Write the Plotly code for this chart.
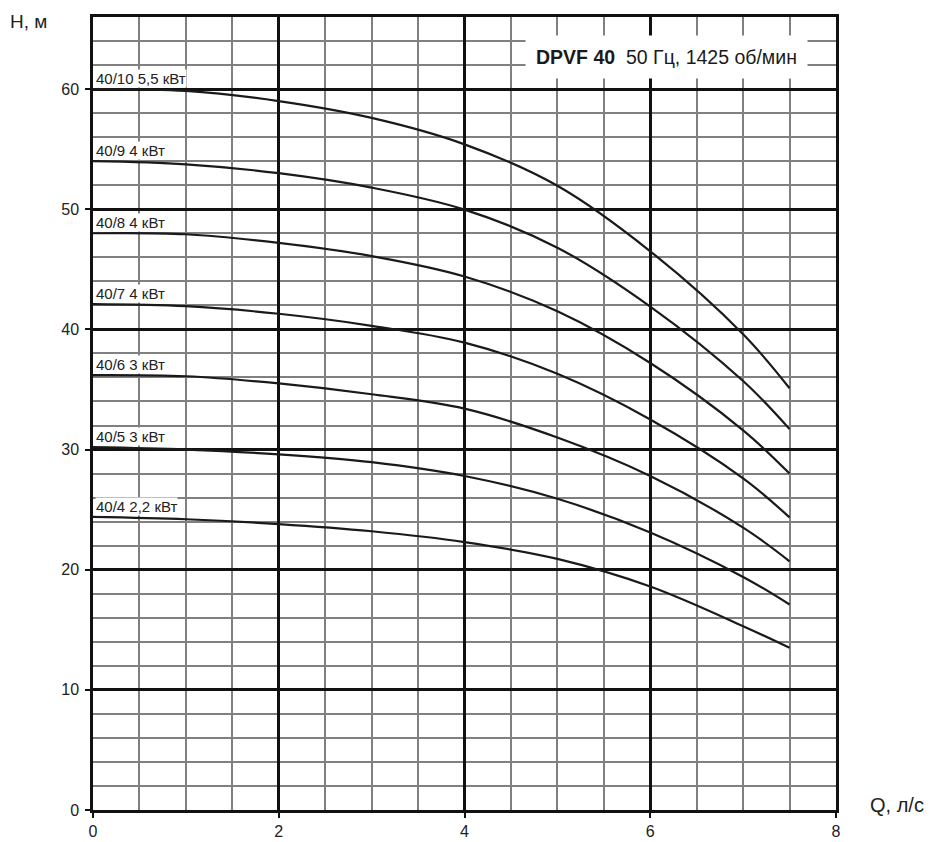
import plotly.graph_objects as go

Q = [0, 1, 2, 3, 4, 5, 6, 7, 7.5]
labels = ["40/10 5,5 кВт", "40/9 4 кВт", "40/8 4 кВт", "40/7 4 кВт",
          "40/6 3 кВт", "40/5 3 кВт", "40/4 2,2 кВт"]
H_40_10 = [60.0, 59.85, 59.0, 57.6, 55.4, 51.95, 46.5, 39.6, 35.1]
H_40_9 = [54.0, 53.74, 53.0, 51.8, 49.97, 46.8, 41.9, 35.7, 31.7]
H_40_8 = [48.0, 47.92, 47.2, 46.1, 44.4, 41.5, 37.2, 31.6, 28.0]
H_40_7 = [42.1, 41.93, 41.3, 40.3, 38.9, 36.3, 32.5, 27.6, 24.35]
H_40_6 = [36.2, 36.1, 35.5, 34.6, 33.4, 31.0, 27.8, 23.5, 20.7]
H_40_5 = [30.2, 30.0, 29.6, 28.95, 27.8, 25.9, 23.1, 19.4, 17.1]
H_40_4 = [24.4, 24.2, 23.8, 23.2, 22.3, 20.9, 18.6, 15.3, 13.5]
series = [H_40_10, H_40_9, H_40_8, H_40_7, H_40_6, H_40_5, H_40_4]

FONT = "Liberation Sans, Arial, sans-serif"

fig = go.Figure()
for name, H in zip(labels, series):
    fig.add_trace(go.Scatter(x=Q, y=H, mode="lines", name=name,
                             line=dict(color="#1a1a1a", width=2.2, shape="spline", smoothing=1.0),
                             showlegend=False, hoverinfo="x+y+name"))

# margins chosen so that the plot area lands where it is in the reference
# (the page body adds an 8 px offset)
L, R, T, B = 85, 108, 9, 40
W, HH = 936, 842
PW, PH = W - L - R, HH - T - B


def px_to_paper(px, py):
    return (px - 8 - L) / PW, (HH - (py - 8) - B) / PH


annotations = []
for name, H in zip(labels, series):
    annotations.append(dict(x=0.02, y=H[0], xref="x", yref="y", text=name,
                            xanchor="left", yanchor="bottom", yshift=1, showarrow=False,
                            bgcolor="white", borderpad=0,
                            font=dict(family=FONT, size=15, color="#222")))
annotations.append(dict(x=6.17, y=62.7, xref="x", yref="y",
                        text="<b>DPVF 40</b>\u00a0\u00a050 Гц, 1425 об/мин",
                        showarrow=False, bgcolor="white", borderpad=10,
                        xanchor="center", yanchor="middle",
                        font=dict(family=FONT, size=19.5, color="#1a1a1a")))
hx, hy = px_to_paper(8, 21)
annotations.append(dict(x=hx, y=hy, xref="paper", yref="paper", text="H, м",
                        showarrow=False, xanchor="left", yanchor="middle",
                        font=dict(family=FONT, size=19, color="#222")))
qx, qy = px_to_paper(868, 805)
annotations.append(dict(x=qx, y=qy, xref="paper", yref="paper", text="Q, л/с",
                        showarrow=False, xanchor="left", yanchor="middle",
                        font=dict(family=FONT, size=20, color="#222")))

fig.update_layout(
    width=W, height=HH,
    margin=dict(l=L, r=R, t=T, b=B, pad=0, autoexpand=False),
    paper_bgcolor="white", plot_bgcolor="white",
    font=dict(family=FONT, size=16, color="#222"),
    xaxis=dict(range=[0, 8], dtick=2, tick0=0, showgrid=True, gridcolor="#111", gridwidth=2.5,
               minor=dict(dtick=0.5, showgrid=True, gridcolor="#808080", gridwidth=1.5),
               showline=True, linecolor="#111", linewidth=2.5, mirror=True,
               ticks="outside", ticklen=5, tickwidth=2, tickcolor="#111",
               tickfont=dict(family=FONT, size=16, color="#222"),
               zeroline=False, fixedrange=True),
    yaxis=dict(range=[0, 66], dtick=10, tick0=0, showgrid=True, gridcolor="#111", gridwidth=2.5,
               minor=dict(dtick=2, showgrid=True, gridcolor="#808080", gridwidth=1.5),
               showline=True, linecolor="#111", linewidth=2.5, mirror=True,
               ticks="outside", ticklen=5, tickwidth=2, tickcolor="#111",
               tickfont=dict(family=FONT, size=16, color="#222"),
               ticklabelstandoff=3,
               zeroline=False, fixedrange=True),
    annotations=annotations,
)

fig.write_html("out.html")
